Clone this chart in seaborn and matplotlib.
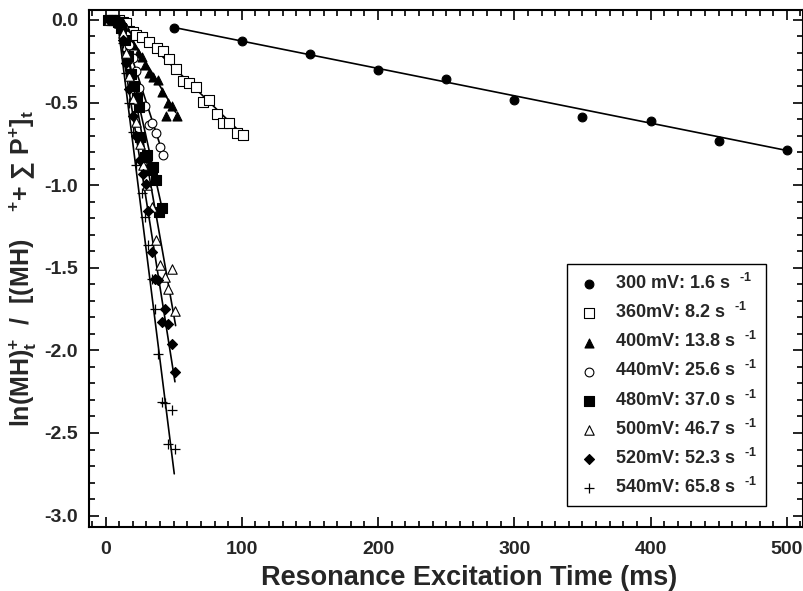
import matplotlib
matplotlib.use('Agg')
import matplotlib.pyplot as plt
import seaborn as sns
import pandas as pd
from matplotlib.ticker import MultipleLocator

# ---------------- data ----------------
labels = ["300 mV: 1.6 s", "360mV: 8.2 s", "400mV: 13.8 s", "440mV: 25.6 s",
          "480mV: 37.0 s", "500mV: 46.7 s", "520mV: 52.3 s", "540mV: 65.8 s"]

s300_x = [50, 100, 150, 200, 250, 300, 350, 400, 450, 500]
s300_y = [-0.05, -0.127, -0.206, -0.30, -0.36, -0.485, -0.59, -0.61, -0.73, -0.79]

s360_x = [5, 10, 12.5, 15, 17.3, 20, 22.5, 26.4, 32, 37.4, 41.8, 46.7, 51.6, 57, 61.4,
          66.3, 71.7, 76.1, 81.5, 86.4, 90.8, 96.2, 101]
s360_y = [0, 0, -0.01, -0.02, -0.065, -0.07, -0.09, -0.105, -0.135, -0.17, -0.19, -0.236,
          -0.297, -0.368, -0.384, -0.408, -0.495, -0.485, -0.572, -0.626, -0.626, -0.683, -0.697]

s400_x = [2.5, 5, 7.5, 10, 12.5, 15, 17.3, 20.3, 23.9, 26.4, 29, 32, 35, 38.6, 41.1,
          44.3, 46, 48.5, 52.1]
s400_y = [0, 0, 0, 0, -0.02, -0.05, -0.12, -0.15, -0.20, -0.226, -0.27, -0.32, -0.347,
          -0.364, -0.434, -0.58, -0.505, -0.52, -0.58]

s440_x = [2.5, 5, 7.5, 10, 12.5, 15, 17.5, 20.3, 22.5, 24.7, 28.9, 32, 33.8, 36.9, 39.9, 41.8]
s440_y = [0, 0, 0, -0.01, -0.04, -0.09, -0.15, -0.23, -0.31, -0.414, -0.523, -0.636,
          -0.624, -0.687, -0.768, -0.818]

s480_x = [1.5, 4, 6.5, 9, 11.5, 14, 16.5, 19, 20.5, 22.7, 24.7, 25.2, 28.9, 30.1, 32,
          33.8, 35, 36.9, 39.4, 41.1]
s480_y = [0, 0, 0, -0.01, -0.05, -0.12, -0.22, -0.33, -0.40, -0.475, -0.525, -0.707,
          -0.828, -0.818, -0.909, -0.90, -0.889, -0.97, -1.16, -1.14]

s500_x = [2.5, 5, 7.5, 10, 12.5, 15, 17.5, 20, 22.5, 25, 27.5, 30.1, 33.8, 36.9, 39.9,
          43.5, 46, 48.5, 50.9]
s500_y = [0, 0, 0, -0.02, -0.08, -0.20, -0.34, -0.48, -0.62, -0.75, -0.88, -1.0, -1.13,
          -1.33, -1.485, -1.556, -1.626, -1.505, -1.762]

s520_x = [2.5, 5, 7.5, 10, 12.5, 15, 17.5, 20, 22.5, 25, 27.5, 29.6, 31.3, 33.8, 36.2,
          38.6, 41.1, 43.5, 46, 48.5, 50.9]
s520_y = [0, 0, -0.01, -0.03, -0.12, -0.26, -0.42, -0.58, -0.70, -0.85, -0.93, -0.99,
          -1.156, -1.404, -1.566, -1.576, -1.828, -1.747, -1.842, -1.964, -2.13]

s540_x = [2.5, 5, 7.5, 10, 12.5, 15, 17.5, 20, 22.5, 26.4, 28.9, 31.3, 33.8, 36.2, 38.6,
          41.1, 43.5, 46, 48.5, 50.9]
s540_y = [0, 0, -0.01, -0.04, -0.14, -0.32, -0.50, -0.68, -0.88, -1.046, -1.19, -1.36,
          -1.57, -1.747, -2.02, -2.31, -2.32, -2.566, -2.36, -2.596]

# fitted lines (endpoints)
fit300_x = [50, 500];   fit300_y = [-0.045, -0.79]
fit360_x = [11.7, 102.3]; fit360_y = [0.02, -0.707]
fit400_x = [11, 51.5];  fit400_y = [0.0, -0.56]
fit440_x = [10.4, 42.3]; fit440_y = [0.0, -0.816]
fit480_x = [10.6, 42];  fit480_y = [0.0, -1.16]
fit500_x = [11.8, 51.4]; fit500_y = [0.0, -1.85]
fit520_x = [9.0, 50.9]; fit520_y = [0.0, -2.19]
fit540_x = [8.65, 50.4]; fit540_y = [0.0, -2.747]

xticks = [0, 100, 200, 300, 400, 500]
yticks = [0.0, -0.5, -1.0, -1.5, -2.0, -2.5, -3.0]

# ---------------- styling ----------------
sns.set_theme(style='ticks')
plt.rcParams['font.family'] = ['Liberation Sans', 'DejaVu Sans']
plt.rcParams['font.weight'] = 'bold'
plt.rcParams['mathtext.fontset'] = 'custom'
plt.rcParams['mathtext.rm'] = 'Liberation Sans:bold'
plt.rcParams['mathtext.it'] = 'Liberation Sans:bold'
plt.rcParams['mathtext.bf'] = 'Liberation Sans:bold'

series = [(s300_x, s300_y), (s360_x, s360_y), (s400_x, s400_y), (s440_x, s440_y),
          (s480_x, s480_y), (s500_x, s500_y), (s520_x, s520_y), (s540_x, s540_y)]
fits = [(fit300_x, fit300_y), (fit360_x, fit360_y), (fit400_x, fit400_y), (fit440_x, fit440_y),
        (fit480_x, fit480_y), (fit500_x, fit500_y), (fit520_x, fit520_y), (fit540_x, fit540_y)]
styles = [('o', True, 40), ('s', False, 42), ('^', True, 42), ('o', False, 40),
          ('s', True, 42), ('^', False, 46), ('D', True, 26), ('+', None, 60)]

fig = plt.figure(figsize=(8.04, 5.91), dpi=100)
ax = fig.add_axes([0.111, 0.108, 0.888, 0.875])

for (fx, fy) in fits:
    sns.lineplot(x=fx, y=fy, color='black', linewidth=1.2, ax=ax,
                 estimator=None, sort=False, legend=False)

for (sx, sy), (m, filled, s), lab in zip(series, styles, labels):
    df = pd.DataFrame({'t': sx, 'v': sy})
    full_lab = lab + r"  $^{\text{-1}}$"
    if filled is None:
        sns.scatterplot(data=df, x='t', y='v', marker=m, s=s, color='black',
                        linewidth=0.9, ax=ax, label=full_lab, zorder=3)
    else:
        sns.scatterplot(data=df, x='t', y='v', marker=m, s=s,
                        facecolor='black' if filled else 'white',
                        edgecolor='black', linewidth=0.8, ax=ax,
                        label=full_lab, zorder=3)

ax.set_xlim(-12, 512)
ax.set_ylim(-3.07, 0.06)
ax.set_xticks(xticks)
ax.set_yticks(yticks)
ax.set_xticklabels([str(v) for v in xticks])
ax.set_yticklabels([f"{v:.1f}" for v in yticks])
ax.xaxis.set_minor_locator(MultipleLocator(10))
ax.yaxis.set_minor_locator(MultipleLocator(0.1))
ax.tick_params(which='both', direction='in', top=True, right=True, width=1.2,
               color='black', labelsize=14)
ax.tick_params(which='major', length=7)
ax.tick_params(axis='x', which='major', pad=10)
ax.tick_params(axis='y', which='major', pad=8)
ax.tick_params(which='minor', length=4)
for lab in ax.get_xticklabels() + ax.get_yticklabels():
    lab.set_fontweight('bold')
for sp in ax.spines.values():
    sp.set_linewidth(1.5)
    sp.set_color('black')

ax.set_xlabel('Resonance Excitation Time (ms)', fontsize=19.5, fontweight='bold')
ax.xaxis.set_label_coords(0.532, -0.074)
ax.set_ylabel(r"ln(MH)$^{+}_{t}$  /  [(MH)    $^{+}$+ ∑ P$^{+}$]$_{t}$", fontsize=18,
              fontweight='bold')
ax.yaxis.set_label_coords(-0.07, 0.5)

leg = ax.legend(loc='lower right', bbox_to_anchor=(0.948, 0.041), borderaxespad=0,
                frameon=True, fancybox=False, edgecolor='black', framealpha=1,
                prop={'size': 13, 'weight': 'bold'}, labelspacing=0.5,
                handletextpad=0.75, borderpad=0.5, handlelength=1.4)
leg.get_frame().set_linewidth(1.0)

fig.savefig('out.png', dpi=100)
